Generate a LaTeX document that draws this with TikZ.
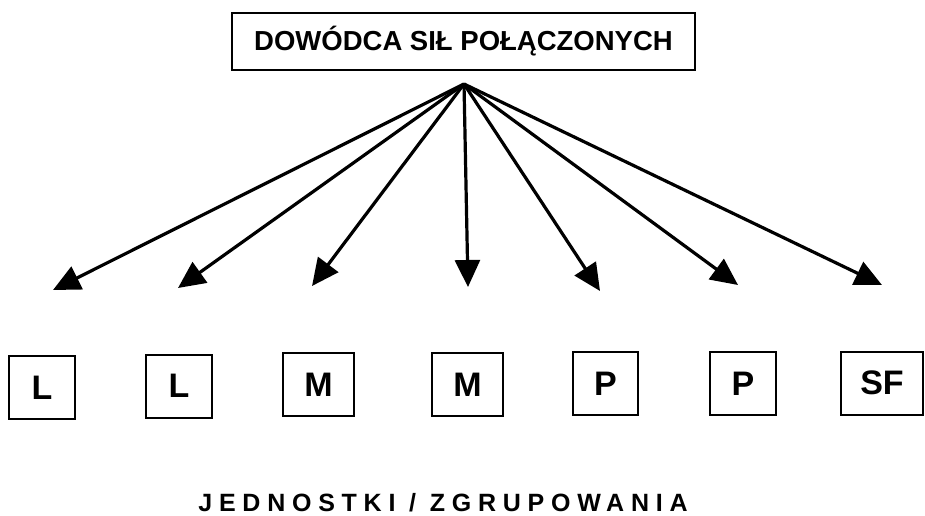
\documentclass[tikz,border=0pt]{standalone}
\usepackage{fontspec}
\setmainfont{Liberation Sans}
\usetikzlibrary{arrows.meta}
\begin{document}
\begin{tikzpicture}[x=1pt,y=-1pt,
  box/.style={draw, line width=2pt, fill=white, inner sep=0pt},
  unit/.style={box, minimum height=63pt, font=\bfseries\fontsize{34}{34}\selectfont},
  link/.style={line width=3.2pt, -{Triangle[length=27pt,width=25pt]}}]
\useasboundingbox[fill=white] (0,0) rectangle (925,515);

% commander
\node[box, minimum width=463pt, minimum height=57pt,
      font=\bfseries\fontsize{27.5}{27.5}\selectfont] (hq) at (463.5,41.5)
      {DOWÓDCA SIŁ POŁĄCZONYCH};

% subordinate units
\node[unit, minimum width=66pt] (l1) at (42,387.5) {L};
\node[unit, minimum width=66pt] (l2) at (179,386) {L};
\node[unit, minimum width=71pt] (m1) at (318.5,384.5) {M};
\node[unit, minimum width=71pt] (m2) at (467.5,384.5) {M};
\node[unit, minimum width=65pt] (p1) at (605.5,383.5) {P};
\node[unit, minimum width=66pt] (p2) at (743,383.5) {P};
\node[unit, minimum width=82pt] (sf) at (882,383) {SF};

% fan of command arrows
\coordinate (apex) at (464,84);
\coordinate (t1) at (53,290);
\coordinate (t2) at (178,288);
\coordinate (t3) at (312,286);
\coordinate (t4) at (468,287);
\coordinate (t5) at (600,291);
\coordinate (t6) at (738,285);
\coordinate (t7) at (882,285);
\foreach \t in {t1,t2,t3,t4,t5,t6,t7}
  \draw[link] (apex) -- (\t);

% caption
\node[anchor=base, inner sep=0pt,
      font=\bfseries\fontsize{25}{25}\selectfont\addfontfeature{LetterSpace=27}]
      (caption) at (443,511) {JEDNOSTKI / ZGRUPOWANIA};
\end{tikzpicture}
\end{document}
